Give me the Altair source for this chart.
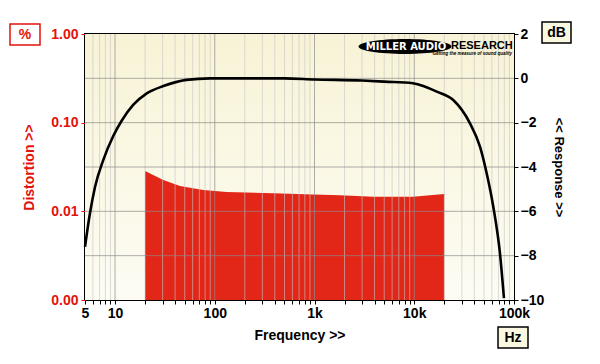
import altair as alt
import pandas as pd

# ---- data ----
resp_freq = [5, 5.6, 6.3, 7.6, 9.6, 11.7, 15.2, 20.8, 30.5, 52, 90, 200, 500,
             1000, 3000, 5000, 9700, 11400, 16800, 24600, 36200, 45600, 53200,
             62000, 72300, 79300]
resp_db = [-7.6, -6.1, -4.9, -3.7, -2.6, -1.9, -1.2, -0.68, -0.35, -0.07, 0.0,
           0.0, 0.0, -0.05, -0.1, -0.15, -0.22, -0.30, -0.6, -0.98, -2.03, -3.08,
           -4.28, -5.79, -7.89, -9.92]

thd_freq = [20, 30.5, 44.8, 76.7, 131, 385, 972, 1800, 3900, 9700, 20000]
thd_pct = [0.0285, 0.0226, 0.0193, 0.0174, 0.0165, 0.016, 0.0155, 0.0152,
           0.0146, 0.0146, 0.0157]

x_ticks = [5, 6, 7, 8, 9, 10, 20, 30, 40, 50, 60, 70, 80, 90, 100, 200, 300, 400,
           500, 600, 700, 800, 900, 1000, 2000, 3000, 4000, 5000, 6000, 7000,
           8000, 9000, 10000, 20000, 30000, 40000, 50000, 60000, 70000, 80000,
           90000, 100000]
x_major = [10, 100, 1000, 10000]
x_minor = [6, 7, 8, 9, 20, 30, 40, 50, 60, 70, 80, 90, 200, 300, 400, 500, 600,
           700, 800, 900, 2000, 3000, 4000, 5000, 6000, 7000, 8000, 9000, 20000,
           30000, 40000, 50000, 60000, 70000, 80000, 90000]
db_ticks = [-10, -8, -6, -4, -2, 0, 2]
db_grid = [-8, -6, -4, -2, 0]
pct_ticks = [0.001, 0.01, 0.1, 1]

W, H = 429, 266
RED = "#E3120B"
FONT = "Liberation Sans"

xscale = alt.Scale(type="log", domain=[5, 100000], nice=False)
dbscale = alt.Scale(domain=[-10, 2], nice=False, zero=False)
pctscale = alt.Scale(type="log", domain=[0.001, 1], nice=False)

resp = pd.DataFrame({"f": resp_freq, "db": resp_db})
thd = pd.DataFrame({"f": thd_freq, "pct": thd_pct})
one = pd.DataFrame({"k": [0]})

x_axis = alt.Axis(
    values=x_ticks,
    labelExpr="datum.value==5?'5':datum.value==10?'10':datum.value==100?'100':"
              "datum.value==1000?'1k':datum.value==10000?'10k':"
              "datum.value==100000?'100k':''",
    labelOverlap=False, labelFlush=False, grid=False, domain=False,
    tickColor="black", tickSize=4, labelPadding=2,
    labelFontSize=14, labelFontWeight="bold", labelColor="black", labelFont=FONT,
    title="Frequency >>", titleFontSize=14, titleFontWeight="bold",
    titleFont=FONT, titleColor="black", titlePadding=8)

left_axis = alt.Axis(
    orient="left", values=pct_ticks, format=".2f", grid=False, domain=False,
    labelColor=RED, tickColor=RED, tickSize=4, labelPadding=3,
    labelFontSize=14, labelFontWeight="bold", labelFont=FONT,
    title="Distortion >>", titleColor=RED, titleFontSize=14,
    titleFontWeight="bold", titleFont=FONT, titlePadding=14)

right_axis = alt.Axis(
    orient="right", values=db_ticks, format="d", grid=False, domain=False,
    labelColor="black", tickColor="black", tickSize=4, labelPadding=2,
    labelFontSize=14, labelFontWeight="bold", labelFont=FONT,
    title="<< Response >>", titleAngle=90, titleColor="black", titleFontSize=13,
    titleFontWeight="bold", titleFont=FONT, titlePadding=8)

bg = alt.Chart(one).mark_rect(
    color=alt.Gradient(gradient="linear",
                       stops=[alt.GradientStop(color="#F8F3D6", offset=0),
                              alt.GradientStop(color="#FDFCF4", offset=1)],
                       x1=0, x2=0, y1=0, y2=1)
).encode(x=alt.value(0), x2=alt.value(W), y=alt.value(0), y2=alt.value(H))

area = alt.Chart(thd).mark_area(color="#E22618").encode(
    x=alt.X("f:Q", scale=xscale, axis=x_axis),
    y=alt.Y("pct:Q", scale=pctscale, axis=left_axis),
    y2=alt.datum(0.001),
)

vminor = alt.Chart(pd.DataFrame({"f": x_minor})).mark_rule(
    color="#C4C4C4", opacity=0.6, strokeWidth=1).encode(
    x=alt.X("f:Q", scale=xscale, axis=x_axis))
vmajor = alt.Chart(pd.DataFrame({"f": x_major})).mark_rule(
    color="#8C8C8C", opacity=0.7, strokeWidth=1).encode(
    x=alt.X("f:Q", scale=xscale, axis=x_axis))
hgrid = alt.Chart(pd.DataFrame({"db": db_grid})).mark_rule(
    color="#8C8C8C", opacity=0.7, strokeWidth=1).encode(
    y=alt.Y("db:Q", scale=dbscale, axis=right_axis))
line = alt.Chart(resp).mark_line(color="black", strokeWidth=2.6,
                                 interpolate="monotone").encode(
    x=alt.X("f:Q", scale=xscale, axis=x_axis),
    y=alt.Y("db:Q", scale=dbscale, axis=right_axis),
)
right_group = alt.layer(vminor, vmajor, hgrid, line)


def box(x1, x2, y1, y2, fill, stroke):
    return alt.Chart(one).mark_rect(fill=fill, stroke=stroke, strokeWidth=1.5).encode(
        x=alt.value(x1), x2=alt.value(x2), y=alt.value(y1), y2=alt.value(y2))


def label(txt, x, y, color="black", size=14, align="center", font=FONT,
          style="normal", weight="bold"):
    return alt.Chart(one).mark_text(
        text=txt, color=color, fontSize=size, fontWeight=weight, font=font,
        align=align, baseline="middle", fontStyle=style).encode(
        x=alt.value(x), y=alt.value(y))


deco = [
    box(-75, -45, -10, 11, "white", RED), label("%", -60, 0.5, RED),
    box(457, 486, -12, 9, "#FBF8E2", "black"), label("dB", 471.5, -1.5),
    box(413, 443, 293, 314, "#FBF8E2", "black"), label("Hz", 428, 303.5),
    alt.Chart(one).mark_point(
        shape="M-1,0A1,0.16,0,1,0,1,0A1,0.16,0,1,0,-1,0Z",
        size=8650, filled=True, color="black", opacity=1).encode(
        x=alt.value(320), y=alt.value(12.5)),
    label("MILLER AUDIO", 321, 12.5, color="white", size=10, font="DejaVu Sans"),
    label("RESEARCH", 366, 12, size=11, align="left"),
    label("Getting the measure of sound quality", 427, 20, size=4.5,
          align="right", style="italic"),
]

chart = alt.layer(bg, area, right_group, *deco).resolve_scale(
    y="independent").properties(
    width=W, height=H,
    autosize=alt.AutoSizeParams(type="none"),
    padding={"left": 77, "top": 26, "right": 78, "bottom": 56},
    background="white",
).configure_view(stroke="black", strokeWidth=2)

chart.save("out.html", embed_options={"renderer": "svg", "actions": False})
